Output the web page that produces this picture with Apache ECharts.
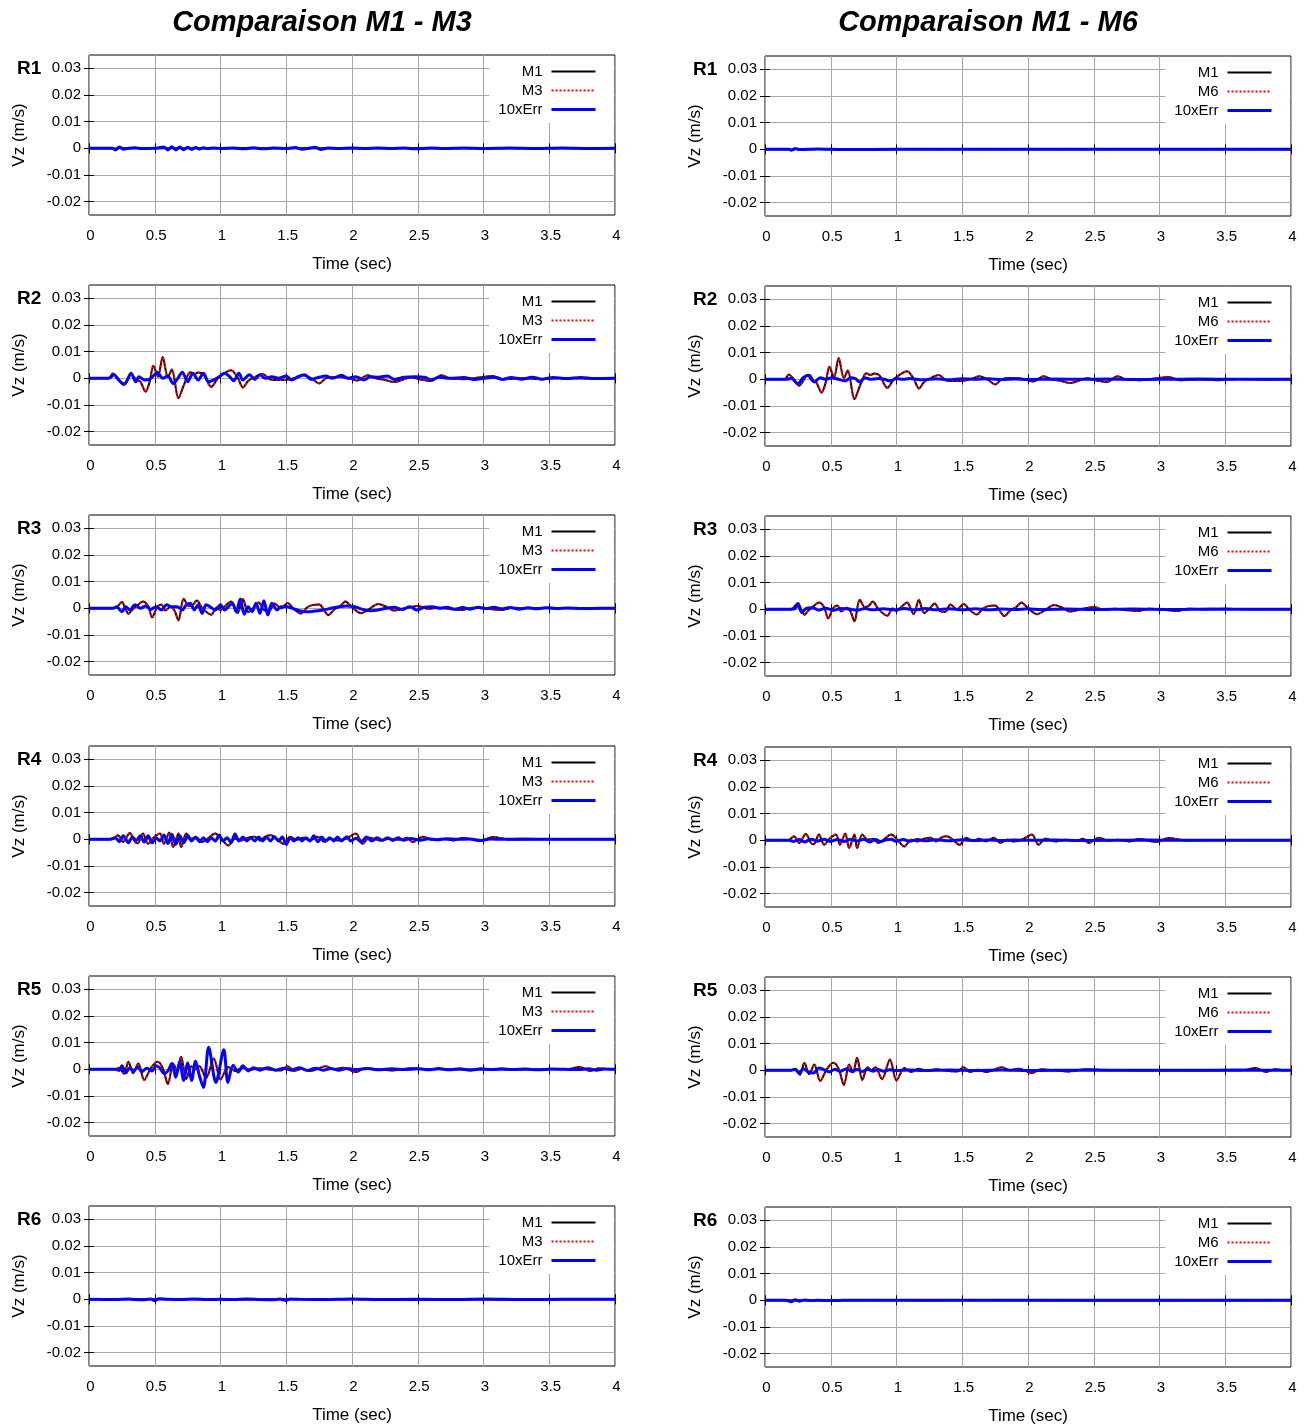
<!DOCTYPE html>
<html><head><meta charset="utf-8">
<script src="https://cdn.jsdelivr.net/npm/echarts@6/dist/echarts.min.js"></script>
<style>html,body{margin:0;padding:0;background:#fff}#c{width:1309px;height:1428px}</style>
</head><body><div id="c"></div>
<script>
// ---------- labels / ticks ----------
const columnTitles = ['Comparaison M1 - M3', 'Comparaison M1 - M6'];
const compNames = ['M3', 'M6'];
const rowLabels = ['R1', 'R2', 'R3', 'R4', 'R5', 'R6'];
const yTicks = [-0.02, -0.01, 0, 0.01, 0.02, 0.03];
const xTickStep = 0.5;

// ---------- M1 (reference, shared by both columns) : [time s, Vz m/s] ----------
const M1_R1 = [[0,0],[0.18,0],[0.21,-0.0002],[0.24,0.0002],[0.28,0],[0.4,0.0001],[0.5,0],[1.2,0.0001],[1.3,0],[4,0]];
const M1_R2 = [[0,0],[0.15,0],[0.18,0.0018],[0.22,0],[0.26,-0.0024],[0.29,-0.0006],[0.32,0.0016],[0.36,-0.0006],[0.39,-0.0012],[0.43,-0.005],[0.46,-0.0015],[0.49,0.0047],[0.525,0.0006],[0.56,0.008],[0.6,0.0004],[0.63,0.0033],[0.68,-0.0075],[0.72,-0.0027],[0.77,0.0023],[0.8,0.0016],[0.83,0.0022],[0.87,0.0015],[0.93,-0.0032],[0.98,0],[1.02,0.0016],[1.08,0.003],[1.13,0.0003],[1.17,-0.0034],[1.21,-0.001],[1.25,0.0002],[1.32,0.0016],[1.38,-0.0004],[1.45,-0.0006],[1.52,-0.0004],[1.58,0.0003],[1.63,0.0012],[1.69,0],[1.75,-0.0019],[1.8,0],[1.86,0.0005],[1.93,0.0004],[1.98,0],[2.04,-0.0008],[2.12,0.0012],[2.18,0],[2.25,-0.0006],[2.32,-0.0014],[2.38,-0.0006],[2.45,0.0004],[2.52,-0.0004],[2.6,-0.001],[2.68,0.0012],[2.74,0],[2.85,-0.0003],[2.95,0.0002],[3.07,0.0009],[3.15,-0.0003],[3.3,0],[3.45,-0.0003],[3.6,0.0001],[3.8,-0.0001],[4,0]];
const M1_R3 = [[0,0],[0.18,0],[0.21,0.0004],[0.25,0.0024],[0.28,-0.0006],[0.3,-0.002],[0.33,-0.0004],[0.37,0.0012],[0.41,0.0026],[0.45,0.0008],[0.48,-0.0034],[0.52,0.0006],[0.55,0.0014],[0.58,-0.0008],[0.62,0.0006],[0.65,-0.0008],[0.68,-0.0045],[0.72,0.0036],[0.76,0.0008],[0.79,0.0014],[0.82,0.0029],[0.86,0.0002],[0.93,-0.0024],[0.97,0.0003],[1,-0.0006],[1.03,0.0006],[1.08,0.0026],[1.13,-0.0018],[1.17,0.0035],[1.21,-0.0014],[1.25,0.0002],[1.29,0.0022],[1.33,-0.0006],[1.37,-0.001],[1.41,0.0018],[1.46,0],[1.51,0.002],[1.56,-0.0004],[1.61,-0.0019],[1.66,0.0004],[1.7,0.0012],[1.75,0.0014],[1.82,-0.0025],[1.87,-0.0002],[1.91,0.0008],[1.95,0.0026],[2,0.0004],[2.07,-0.0018],[2.12,-0.0006],[2.2,0.0016],[2.26,0.0006],[2.32,-0.0008],[2.4,0],[2.5,0.0009],[2.58,-0.0002],[2.66,0.0002],[2.75,-0.0003],[2.84,-0.0006],[2.92,0.0002],[3,0],[3.14,-0.0006],[3.22,0.0002],[3.35,0],[3.5,0.0002],[3.7,0],[4,0]];
const M1_R4 = [[0,0],[0.17,0],[0.19,0.0004],[0.22,0.0015],[0.26,-0.001],[0.31,0.0024],[0.35,-0.001],[0.37,-0.0015],[0.41,0.0022],[0.45,-0.0017],[0.49,0.0006],[0.54,0.0022],[0.57,-0.0017],[0.61,0.0026],[0.64,-0.0029],[0.68,0.0022],[0.7,-0.0029],[0.74,0.0022],[0.78,0.0002],[0.82,0.0006],[0.86,-0.001],[0.9,0.0002],[0.96,0.0022],[1,0.0006],[1.06,-0.0023],[1.11,0.0002],[1.16,-0.0004],[1.21,0.0006],[1.26,0.001],[1.3,-0.0004],[1.34,0.001],[1.38,0.0015],[1.42,0.0006],[1.48,-0.0017],[1.53,0.001],[1.58,-0.0002],[1.63,0.0006],[1.68,-0.0004],[1.74,0.001],[1.79,-0.001],[1.84,0.0002],[1.89,-0.0004],[1.96,0.0004],[2.03,0.0022],[2.08,-0.0017],[2.13,0.0006],[2.21,-0.0004],[2.29,0.0002],[2.37,-0.0002],[2.42,0.0006],[2.46,-0.001],[2.54,0.001],[2.61,-0.0002],[2.68,0.0002],[2.77,-0.0004],[2.84,0.0005],[2.98,-0.0006],[3.07,0.0009],[3.2,-0.0001],[3.45,0.0001],[3.7,0],[4,0]];
const M1_R5 = [[0,0],[0.2,0],[0.23,0.0006],[0.265,-0.0017],[0.3,0.0028],[0.335,-0.0015],[0.375,0.0022],[0.42,-0.004],[0.47,0.0004],[0.52,0.0028],[0.56,0.0006],[0.6,-0.0055],[0.64,0.0022],[0.67,-0.0008],[0.7,0.0047],[0.74,-0.0036],[0.78,0.0012],[0.81,0],[0.84,0.0012],[0.89,-0.0033],[0.95,0.0041],[1,-0.0038],[1.06,0.0009],[1.11,-0.0006],[1.17,0.0006],[1.23,-0.0002],[1.3,0.0004],[1.38,-0.0002],[1.46,-0.0004],[1.51,0.0012],[1.56,-0.0006],[1.62,0.0002],[1.68,-0.0006],[1.74,0.0002],[1.8,0.0012],[1.86,0],[1.93,0.0006],[2.03,-0.001],[2.1,0.0004],[2.2,0],[2.31,-0.0004],[2.45,0.0004],[2.6,0],[2.75,0],[2.9,-0.0001],[3.1,0],[3.3,-0.0001],[3.5,0],[3.65,0.0001],[3.73,0.0009],[3.81,-0.0006],[3.88,0.0004],[3.95,0],[4,0]];
const M1_R6 = [[0,0],[0.5,0],[1,0.0001],[1.2,-0.0001],[1.6,0.0001],[2.5,-0.0001],[4,0]];

// ---------- M3 and M6 (read as coincident with M1 at this scale) ----------
const M3_R1 = M1_R1, M3_R2 = M1_R2, M3_R3 = M1_R3, M3_R4 = M1_R4, M3_R5 = M1_R5, M3_R6 = M1_R6;
const M6_R1 = M1_R1, M6_R2 = M1_R2, M6_R3 = M1_R3, M6_R4 = M1_R4, M6_R5 = M1_R5, M6_R6 = M1_R6;

// ---------- 10 x error, M1 - M3 ----------
const ERR3_R1 = [[0,0],[0.18,0],[0.2,-0.0006],[0.23,0.0005],[0.26,-0.0003],[0.3,0],[0.35,0.0002],[0.4,-0.0001],[0.5,0],[0.57,0.0005],[0.6,-0.0006],[0.63,0.0006],[0.66,-0.0006],[0.69,0.0005],[0.72,-0.0005],[0.75,0.0004],[0.78,-0.0004],[0.81,0.0003],[0.84,-0.0003],[0.87,0.0002],[0.9,-0.0001],[0.95,0.0001],[1,-0.0001],[1.1,0.0001],[1.18,-0.0002],[1.25,0.0002],[1.32,-0.0002],[1.4,0.0001],[1.5,-0.0001],[1.57,0.0003],[1.62,-0.0003],[1.68,0.0001],[1.72,0.0004],[1.76,-0.0004],[1.82,0.0001],[1.9,-0.0001],[2,0.0001],[2.1,-0.0001],[2.2,0.0001],[2.3,-0.0001],[2.4,0.0001],[2.48,-0.0002],[2.6,0.0001],[2.7,-0.0001],[2.85,0.0001],[3,-0.0001],[3.2,0.0001],[3.4,-0.0001],[3.6,0.0001],[3.8,-0.0001],[4,0]];
const ERR3_R2 = [[0,0],[0.15,0],[0.19,0.0013],[0.225,-0.0006],[0.27,-0.0022],[0.32,0.0019],[0.355,-0.0013],[0.38,0.0006],[0.42,-0.0006],[0.46,-0.0004],[0.52,0.0022],[0.56,0],[0.6,0.0009],[0.64,-0.0019],[0.67,-0.0004],[0.71,0.0023],[0.75,-0.0013],[0.79,0.0019],[0.83,-0.0006],[0.87,0.0019],[0.91,-0.0013],[0.95,-0.0006],[0.99,0.0006],[1.03,0.0019],[1.07,0.0006],[1.1,-0.0009],[1.14,0.0019],[1.17,-0.0006],[1.22,0.0013],[1.26,-0.0004],[1.3,0.0013],[1.34,0],[1.39,0.0006],[1.44,0],[1.5,0.0009],[1.54,-0.0006],[1.59,0.0006],[1.64,0.0013],[1.69,-0.0004],[1.75,0.0004],[1.8,0.0009],[1.85,0],[1.92,0.0012],[1.97,0],[2.03,0.0006],[2.09,-0.0006],[2.14,0.0006],[2.2,0.0004],[2.27,0.0009],[2.32,-0.0004],[2.4,0.0004],[2.48,0.0006],[2.56,0.0003],[2.6,-0.0006],[2.66,0.0004],[2.74,0],[2.85,0.0003],[2.93,-0.0004],[3,0],[3.08,0.0004],[3.14,-0.0004],[3.21,0.0003],[3.29,-0.0003],[3.37,0.0004],[3.45,-0.0003],[3.53,0.0003],[3.63,-0.0001],[3.74,0.0003],[3.84,-0.0001],[4,0]];
const ERR3_R3 = [[0,0],[0.18,0],[0.21,0.0006],[0.25,-0.0013],[0.28,0.0006],[0.31,-0.0006],[0.35,0.0013],[0.39,0],[0.43,0.0009],[0.47,-0.0004],[0.51,0.0006],[0.55,-0.0006],[0.59,0.0013],[0.63,0.0006],[0.67,0.0006],[0.71,-0.0006],[0.74,0.0013],[0.77,0.0019],[0.8,-0.0006],[0.83,0.0013],[0.86,-0.0019],[0.89,0.0013],[0.92,0.0006],[0.96,-0.0006],[1,0.0013],[1.03,-0.0006],[1.06,0.0006],[1.09,0.0019],[1.12,-0.0013],[1.15,0.0035],[1.18,-0.0022],[1.21,0.0006],[1.24,-0.0013],[1.27,0.0019],[1.3,-0.0019],[1.33,0.0028],[1.36,-0.0025],[1.39,0.0019],[1.43,-0.0006],[1.46,0.0006],[1.5,0.0006],[1.55,0],[1.6,-0.0009],[1.66,-0.0013],[1.72,-0.001],[1.78,-0.0006],[1.84,0],[1.9,0.0006],[1.96,0.0009],[2.02,0.0006],[2.08,-0.0004],[2.14,-0.0009],[2.2,-0.0006],[2.26,0],[2.32,0.0004],[2.38,-0.0004],[2.44,0.0006],[2.49,-0.0006],[2.55,0.0004],[2.61,0.0006],[2.67,0],[2.72,0.0004],[2.78,-0.0003],[2.84,0.0003],[2.9,-0.0003],[2.96,0.0004],[3.02,-0.0001],[3.08,0.0004],[3.14,-0.0002],[3.2,0.0003],[3.27,-0.0003],[3.34,0.0002],[3.4,-0.0002],[3.48,0.0002],[3.56,-0.0001],[3.64,0.0001],[3.75,-0.0001],[3.9,0],[4,0]];
const ERR3_R4 = [[0,0],[0.16,0],[0.2,0.0006],[0.23,-0.0009],[0.26,0.0013],[0.3,-0.0013],[0.33,0.0009],[0.36,-0.0004],[0.39,0.0013],[0.42,-0.001],[0.45,0.0013],[0.48,-0.0013],[0.51,0.0006],[0.54,-0.0006],[0.57,0.0016],[0.6,-0.0016],[0.63,0.0019],[0.66,-0.0019],[0.69,0.0013],[0.72,-0.0013],[0.75,0.0013],[0.78,-0.0006],[0.81,0.0009],[0.84,-0.0009],[0.87,0.0006],[0.9,-0.0009],[0.93,0.0006],[0.96,-0.0006],[0.99,0.0016],[1.02,-0.0006],[1.05,0.0006],[1.08,-0.0013],[1.11,0.002],[1.14,-0.0006],[1.17,0.0009],[1.2,-0.0006],[1.23,0.0006],[1.26,-0.0006],[1.29,0.0009],[1.32,-0.0006],[1.35,0.0009],[1.38,-0.0006],[1.41,0.001],[1.44,-0.0006],[1.47,0.0009],[1.5,-0.0019],[1.53,0.0006],[1.56,-0.0006],[1.59,0.0006],[1.62,-0.0006],[1.65,0.0006],[1.68,-0.0006],[1.71,0.0013],[1.74,-0.0009],[1.77,0.0009],[1.8,-0.0006],[1.83,0.0006],[1.86,-0.0006],[1.89,0.0009],[1.92,-0.0006],[1.96,0.001],[1.99,-0.0006],[2.03,0.0004],[2.07,-0.0009],[2.11,0.0009],[2.15,-0.0006],[2.19,0.0006],[2.23,-0.0004],[2.27,0.0006],[2.31,-0.0004],[2.35,0.0006],[2.39,-0.0003],[2.45,0.0003],[2.52,-0.0003],[2.58,0.0002],[2.65,-0.0002],[2.72,0.0002],[2.8,0],[2.9,0.0001],[2.98,-0.0004],[3.05,0.0001],[3.15,0],[3.3,0.0001],[3.5,0],[4,0]];
const ERR3_R5 = [[0,0],[0.2,0],[0.23,-0.0004],[0.25,0.0013],[0.28,-0.0013],[0.31,0.0006],[0.34,-0.0006],[0.37,0.001],[0.4,-0.0009],[0.44,0.0004],[0.48,-0.0006],[0.51,0.0013],[0.54,0.0004],[0.57,-0.0016],[0.6,-0.0006],[0.63,0.0022],[0.66,-0.003],[0.69,0.003],[0.72,-0.0042],[0.75,0.0025],[0.78,-0.0042],[0.81,0.003],[0.84,-0.0025],[0.87,-0.0068],[0.91,0.0083],[0.965,-0.0049],[1.025,0.0073],[1.056,-0.0049],[1.096,0.0015],[1.135,-0.001],[1.17,0.0013],[1.21,-0.0006],[1.25,0.0006],[1.3,-0.0003],[1.36,0.0006],[1.42,-0.0003],[1.48,0.0004],[1.54,-0.0003],[1.6,0.0006],[1.66,-0.0004],[1.72,0.0004],[1.78,-0.0003],[1.84,0.0003],[1.9,-0.0003],[1.96,0.0003],[2.03,-0.0001],[2.12,0.0003],[2.2,-0.0002],[2.3,0.0002],[2.4,-0.0001],[2.5,0.0002],[2.58,-0.0002],[2.66,0.0003],[2.74,-0.0002],[2.82,0.0002],[2.9,-0.0003],[2.98,0.0002],[3.06,-0.0001],[3.14,0.0002],[3.22,-0.0001],[3.32,0.0001],[3.42,-0.0002],[3.52,0.0001],[3.62,0],[3.72,-0.0001],[3.8,0.0002],[3.86,-0.0003],[3.92,0.0001],[4,0]];
const ERR3_R6 = [[0,0],[0.2,-0.0001],[0.3,0.0001],[0.4,-0.0002],[0.47,0.0001],[0.5,-0.0005],[0.53,0.0002],[0.6,0],[0.7,-0.0001],[0.8,0.0001],[0.9,-0.0001],[1,0],[1.1,-0.0001],[1.2,0.0001],[1.3,-0.0001],[1.4,-0.0002],[1.45,0.0001],[1.5,-0.0004],[1.53,0.0001],[1.6,0],[1.8,-0.0001],[2,0.0001],[2.2,-0.0001],[2.5,0],[2.8,-0.0001],[3,0.0001],[3.3,-0.0001],[3.6,0],[4,0]];

// ---------- 10 x error, M1 - M6 ----------
const ERR6_R1 = [[0,0],[0.18,0],[0.2,-0.0003],[0.23,0.0003],[0.26,-0.0001],[0.4,0.0001],[0.6,-0.0001],[1,0],[4,0]];
const ERR6_R2 = [[0,0],[0.17,0],[0.2,0.0004],[0.25,-0.0017],[0.29,0.0006],[0.335,0.0015],[0.375,-0.001],[0.42,0.0006],[0.46,0],[0.51,0.0006],[0.56,0],[0.61,-0.0006],[0.65,0.0006],[0.69,0.0002],[0.72,-0.001],[0.76,0.0006],[0.8,0],[0.86,0.0003],[0.91,0],[0.95,-0.0006],[1,0.0003],[1.05,0],[1.1,0.0003],[1.2,-0.0002],[1.3,0.0002],[1.4,-0.0002],[1.5,0.0002],[1.6,0],[1.7,0.0002],[1.8,-0.0001],[1.9,0.0001],[2,-0.0001],[2.2,0.0001],[2.4,0],[2.6,0.0001],[2.8,-0.0001],[3,0],[3.3,0.0001],[3.6,0],[4,0]];
const ERR6_R3 = [[0,0],[0.2,0],[0.23,0.0004],[0.25,0.0018],[0.28,-0.0012],[0.31,0.0003],[0.36,0.0006],[0.41,-0.0003],[0.46,0.0004],[0.52,-0.0003],[0.58,0.0003],[0.64,0.0001],[0.7,-0.0003],[0.76,0.0003],[0.82,-0.0002],[0.9,0.0002],[0.98,-0.0002],[1.06,0.0003],[1.14,-0.0002],[1.22,0.0003],[1.3,-0.0002],[1.4,0.0002],[1.5,-0.0002],[1.6,0.0002],[1.7,-0.0002],[1.8,0.0001],[1.9,-0.0001],[2,0.0002],[2.1,-0.0001],[2.3,0.0001],[2.5,-0.0001],[2.8,0.0001],[3.1,-0.0001],[3.4,0.0001],[3.7,0],[4,0]];
const ERR6_R4 = [[0,0],[0.18,0],[0.22,-0.0004],[0.26,0.0003],[0.3,-0.0006],[0.35,0.0004],[0.4,-0.0003],[0.45,0.0004],[0.5,-0.0004],[0.55,0.0003],[0.6,-0.0004],[0.65,0.0004],[0.7,-0.0003],[0.75,0.0004],[0.8,-0.0006],[0.84,0.0003],[0.88,-0.0005],[0.92,0.0002],[0.96,0.0004],[1,-0.0004],[1.05,0.0003],[1.1,-0.0003],[1.16,0.0003],[1.22,-0.0002],[1.3,0.0002],[1.4,-0.0002],[1.5,0.0002],[1.6,-0.0001],[1.7,0.0001],[1.8,-0.0001],[1.9,0.0001],[2,0],[2.2,0.0001],[2.4,-0.0001],[2.6,0],[2.9,0.0001],[3.2,0],[4,0]];
const ERR6_R5 = [[0,0],[0.2,0],[0.23,0.0003],[0.26,-0.001],[0.29,0.0006],[0.33,-0.0006],[0.37,-0.001],[0.41,0.0009],[0.45,0.0002],[0.49,-0.0006],[0.53,0.0004],[0.57,-0.0004],[0.62,0.0006],[0.66,-0.0004],[0.7,0.0003],[0.74,-0.0004],[0.78,0.0004],[0.82,-0.0003],[0.86,0.0003],[0.9,-0.0003],[0.95,0.0002],[1,-0.0001],[1.1,0.0001],[1.2,-0.0001],[1.4,0.0001],[1.6,-0.0001],[1.8,0.0001],[2,-0.0001],[2.2,0],[2.5,0.0001],[2.8,0],[3.2,0],[3.6,0.0001],[4,0]];
const ERR6_R6 = [[0,0],[0.16,0],[0.2,-0.0005],[0.23,0.0002],[0.26,-0.0003],[0.3,0.0001],[0.35,-0.0001],[0.4,0],[0.5,-0.0001],[0.6,0],[4,0]];

// ---------- assemble ----------
const M1_rows = [M1_R1, M1_R2, M1_R3, M1_R4, M1_R5, M1_R6];
const comp_rows = [[M3_R1, M3_R2, M3_R3, M3_R4, M3_R5, M3_R6], [M6_R1, M6_R2, M6_R3, M6_R4, M6_R5, M6_R6]];
const err_rows = [[ERR3_R1, ERR3_R2, ERR3_R3, ERR3_R4, ERR3_R5, ERR3_R6], [ERR6_R1, ERR6_R2, ERR6_R3, ERR6_R4, ERR6_R5, ERR6_R6]];

const FONT = '"Liberation Sans", Arial, sans-serif';
const W = 1309;
const colLeft = [89, 765];
const colTopOff = [0, 1];
const rowTop = [55, 285, 515, 746, 976, 1206];
const plotW = 526, plotH = 160;

const grids = [], xAxes = [], yAxes = [], xMirror = [], yMirror = [], series = [], legends = [], graphics = [];
const noSymbol = {color: 'rgba(0,0,0,0)', borderColor: 'rgba(0,0,0,0)', borderWidth: 0, opacity: 0};
const tickStyle = {show: true, inside: true, length: 5, lineStyle: {color: '#000'}};

for (let c = 0; c < 2; c++) {
  graphics.push({type: 'text', x: c === 0 ? 322 : 988, y: 23,
    style: {text: columnTitles[c], font: 'italic bold 29px ' + FONT, fill: '#000', align: 'center', verticalAlign: 'middle', textAlign: 'center', textVerticalAlign: 'middle'}});
  for (let r = 0; r < 6; r++) {
    const i = grids.length;
    const top = rowTop[r] + colTopOff[c];
    grids.push({left: colLeft[c], top: top, width: plotW, height: plotH, show: true, borderColor: '#000', borderWidth: 1, backgroundColor: 'rgba(0,0,0,0)'});
    xAxes.push({gridIndex: i, type: 'value', min: 0, max: 4, interval: xTickStep,
      axisLine: {show: false},
      axisTick: tickStyle,
      axisLabel: {fontSize: 15, color: '#000', margin: 13, fontFamily: FONT, padding: [0, 0, 0, 3]},
      splitLine: {show: true, lineStyle: {color: '#a8a8a8', width: 1}},
      name: 'Time (sec)', nameLocation: 'middle', nameGap: 41,
      nameTextStyle: {fontSize: 17, color: '#000', fontFamily: FONT}});
    yAxes.push({gridIndex: i, type: 'value', min: -0.025, max: 0.035,
      axisLine: {show: false},
      axisTick: Object.assign({customValues: yTicks}, tickStyle),
      axisLabel: {customValues: yTicks, fontSize: 15, color: '#000', margin: 8, fontFamily: FONT},
      splitLine: {show: true, lineStyle: {color: '#a8a8a8', width: 1}},
      name: 'Vz (m/s)', nameLocation: 'middle', nameGap: 61,
      nameTextStyle: {fontSize: 17, color: '#000', fontFamily: FONT}});
    // mirrored tick marks on top and right edges
    xMirror.push({gridIndex: i, type: 'value', position: 'top', min: 0, max: 4, interval: xTickStep,
      axisLine: {show: false}, axisTick: tickStyle, axisLabel: {show: false}, splitLine: {show: false}});
    yMirror.push({gridIndex: i, type: 'value', position: 'right', min: -0.025, max: 0.035,
      axisLine: {show: false}, axisTick: Object.assign({customValues: yTicks}, tickStyle),
      axisLabel: {show: false, customValues: yTicks}, splitLine: {show: false}});
    series.push({type: 'line', name: 'M1', xAxisIndex: i, yAxisIndex: i, data: M1_rows[r],
      symbol: 'none', showSymbol: false, smooth: 0.3, animation: false, z: 2,
      lineStyle: {color: '#000', width: 2}, itemStyle: {color: '#000'}});
    series.push({type: 'line', name: compNames[c], xAxisIndex: i, yAxisIndex: i, data: comp_rows[c][r],
      symbol: 'none', showSymbol: false, smooth: 0.3, animation: false, z: 3,
      lineStyle: {color: '#ff0000', width: 2, type: [2, 2]}, itemStyle: {color: '#ff0000'}});
    series.push({type: 'line', name: '10xErr', xAxisIndex: i, yAxisIndex: i, data: err_rows[c][r],
      symbol: 'none', showSymbol: false, smooth: 0.3, animation: false, z: 4,
      lineStyle: {color: '#0000ff', width: 3}, itemStyle: {color: '#0000ff'}});
    legends.push({orient: 'vertical', right: W - (colLeft[c] + plotW - 1), top: top + 1, align: 'right',
      itemWidth: 44, itemHeight: 16, itemGap: 4, padding: [8, 17, 6, 9], backgroundColor: '#fff',
      selectedMode: false, z: 10,
      itemStyle: noSymbol,
      textStyle: {fontSize: 15, color: '#000', fontFamily: FONT, padding: [0, 4, 0, 0]},
      data: [
        {name: 'M1', lineStyle: {width: 2}},
        {name: compNames[c], lineStyle: {width: 2}},
        {name: '10xErr', lineStyle: {width: 3}}
      ]});
    graphics.push({type: 'text', x: c === 0 ? 17 : 693, y: top + 14,
      style: {text: rowLabels[r], font: 'bold 19px ' + FONT, fill: '#000', align: 'left', verticalAlign: 'middle', textAlign: 'left', textVerticalAlign: 'middle'}});
  }
}

const chart = echarts.init(document.getElementById('c'), null, {renderer: 'canvas'});
chart.setOption({
  animation: false,
  backgroundColor: '#fff',
  grid: grids, xAxis: xAxes.concat(xMirror), yAxis: yAxes.concat(yMirror), series: series, legend: legends,
  graphic: graphics
});
</script>
</body></html>
